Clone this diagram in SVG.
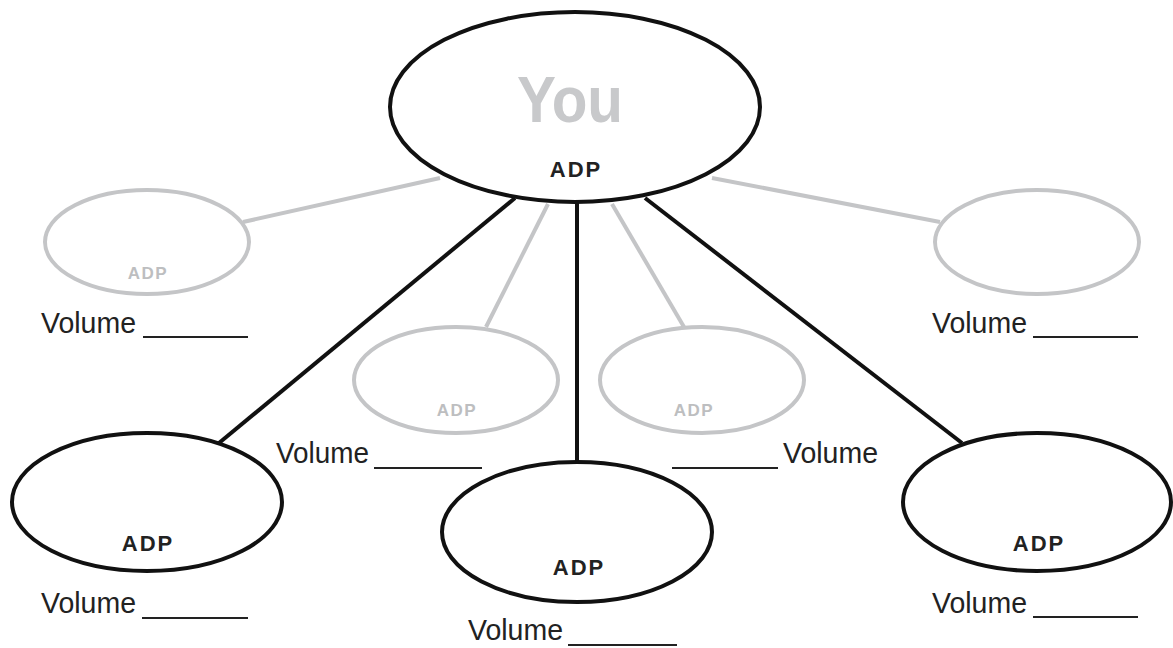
<svg xmlns="http://www.w3.org/2000/svg" width="1173" height="648" viewBox="0 0 1173 648">
<style>
.dark{fill:#fff;stroke:#111;stroke-width:4}
.light{fill:#fff;stroke:#c4c5c7;stroke-width:4}
.cd{stroke:#111;stroke-width:4;fill:none}
.cl{stroke:#c4c5c7;stroke-width:4;fill:none}
.adp{font-family:"Liberation Sans",Arial,sans-serif;font-weight:bold;font-size:22px;fill:#222;text-anchor:middle;letter-spacing:2px}
.adpl{font-family:"Liberation Sans",Arial,sans-serif;font-weight:bold;font-size:17px;fill:#bdbec0;text-anchor:middle;letter-spacing:1.5px}
.vol{font-family:"Liberation Sans",Arial,sans-serif;font-size:29px;fill:#222}
.ul{stroke:#222;stroke-width:2}
</style>
<g id="connectors">
<line class="cl" x1="243" y1="222" x2="440" y2="178"/>
<line class="cl" x1="940" y1="222" x2="712" y2="178"/>
<line class="cl" x1="486" y1="327" x2="548" y2="204"/>
<line class="cl" x1="684" y1="327" x2="612" y2="204"/>
<line class="cd" x1="219" y1="443" x2="515" y2="198"/>
<line class="cd" x1="577" y1="202" x2="577" y2="463"/>
<line class="cd" x1="962" y1="443" x2="645" y2="198"/>
</g>
<g id="you">
<ellipse class="dark" cx="575" cy="107" rx="185" ry="95"/>
<text x="570" y="122" font-family="Liberation Sans,Arial,sans-serif" font-weight="bold" font-size="64" fill="#c8c9cb" text-anchor="middle" textLength="106" lengthAdjust="spacingAndGlyphs">You</text>
<text class="adp" x="576" y="177" font-size="26">ADP</text>
</g>
<g id="n-left-gray">
<ellipse class="light" cx="147" cy="242" rx="102" ry="52"/>
<text class="adpl" x="148" y="279">ADP</text>
<text class="vol" x="41" y="333" textLength="95" lengthAdjust="spacingAndGlyphs">Volume</text>
<line class="ul" x1="143" y1="337" x2="248" y2="337"/>
</g>
<g id="n-right-gray">
<ellipse class="light" cx="1037" cy="242" rx="102" ry="52"/>
<text class="vol" x="932" y="333" textLength="95" lengthAdjust="spacingAndGlyphs">Volume</text>
<line class="ul" x1="1033" y1="337" x2="1138" y2="337"/>
</g>
<g id="n-mid-left-gray">
<ellipse class="light" cx="456" cy="380" rx="102" ry="53"/>
<text class="adpl" x="457" y="416">ADP</text>
<text class="vol" x="276" y="463" textLength="93" lengthAdjust="spacingAndGlyphs">Volume</text>
<line class="ul" x1="374" y1="468" x2="482" y2="468"/>
</g>
<g id="n-mid-right-gray">
<ellipse class="light" cx="702" cy="380" rx="102" ry="53"/>
<text class="adpl" x="694" y="416">ADP</text>
<line class="ul" x1="672" y1="468" x2="778" y2="468"/>
<text class="vol" x="783" y="463" textLength="95" lengthAdjust="spacingAndGlyphs">Volume</text>
</g>
<g id="n-bottom-left">
<ellipse class="dark" cx="147" cy="502" rx="135" ry="69"/>
<text class="adp" x="148" y="551">ADP</text>
<text class="vol" x="41" y="613" textLength="95" lengthAdjust="spacingAndGlyphs">Volume</text>
<line class="ul" x1="142" y1="618" x2="248" y2="618"/>
</g>
<g id="n-bottom-center">
<ellipse class="dark" cx="577" cy="532" rx="135" ry="70"/>
<text class="adp" x="579" y="575">ADP</text>
<text class="vol" x="468" y="640" textLength="95" lengthAdjust="spacingAndGlyphs">Volume</text>
<line class="ul" x1="568" y1="645" x2="677" y2="645"/>
</g>
<g id="n-bottom-right">
<ellipse class="dark" cx="1037" cy="502" rx="134" ry="69"/>
<text class="adp" x="1039" y="551">ADP</text>
<text class="vol" x="932" y="613" textLength="95" lengthAdjust="spacingAndGlyphs">Volume</text>
<line class="ul" x1="1033" y1="617" x2="1138" y2="617"/>
</g>
</svg>
